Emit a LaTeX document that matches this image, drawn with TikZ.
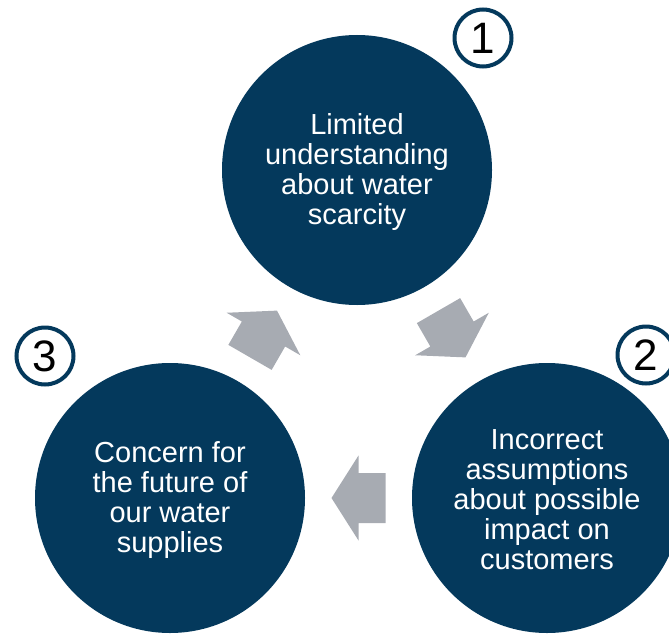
\documentclass[tikz,border=0pt]{standalone}
\usepackage{fontspec}
\setmainfont{Liberation Sans}
\usetikzlibrary{calc}
\definecolor{navy}{RGB}{4,57,92}
\definecolor{arrowgray}{RGB}{167,171,178}
\begin{document}
\begin{tikzpicture}[x=1pt,y=-1pt,
  bigcircle/.style={circle,fill=navy,minimum size=270pt,inner sep=0pt,text=white,align=center,font=\fontsize{29}{30}\selectfont},
  badge/.style={circle,draw=navy,line width=4pt,fill=white,minimum size=57pt,inner sep=0pt,text=black,font=\fontsize{44}{44}\selectfont},
  cyclearrow/.style={fill=arrowgray,x=1pt,y=1pt}]
\useasboundingbox (0,0) rectangle (669,634);
\clip (0,0) rectangle (669,634);
\node[bigcircle] (c1) at (357,170) {};
\node[bigcircle] (c2) at (547,498) {};
\node[bigcircle] (c3) at (170,498) {};
\node[text=white,align=center,font=\fontsize{29}{30}\selectfont] (t1) at (357,172.5) {Limited\\understanding\\about water\\scarcity};
\node[text=white,align=center,font=\fontsize{29}{30}\selectfont] (t2) at (547,500) {Incorrect\\assumptions\\about possible\\impact on\\customers};
\node[text=white,align=center,font=\fontsize{29}{30}\selectfont] (t3) at (170,500) {Concern for\\the future of\\our water\\supplies};
\node[badge] (b1) at (483,38) {1};
\node[badge] (b2) at (646,355) {2};
\node[badge] (b3) at (45,356) {3};
\coordinate (a12) at ($(c1)!0.5!(c2)$);
\coordinate (a23) at ($(c2)!0.5!(c3)$);
\coordinate (a31) at ($(c3)!0.5!(c1)$);
\fill[shift={(a12)},rotate=-60,cyclearrow] (27,0) -- (0,42.5) -- (0,25) -- (-27,25) -- (-27,-25) -- (0,-25) -- (0,-42.5) -- cycle;
\fill[shift={(a23)},rotate=180,cyclearrow] (27,0) -- (0,42.5) -- (0,25) -- (-27,25) -- (-27,-25) -- (0,-25) -- (0,-42.5) -- cycle;
\fill[shift={(a31)},rotate=60,cyclearrow] (27,0) -- (0,42.5) -- (0,25) -- (-27,25) -- (-27,-25) -- (0,-25) -- (0,-42.5) -- cycle;
\end{tikzpicture}
\end{document}
